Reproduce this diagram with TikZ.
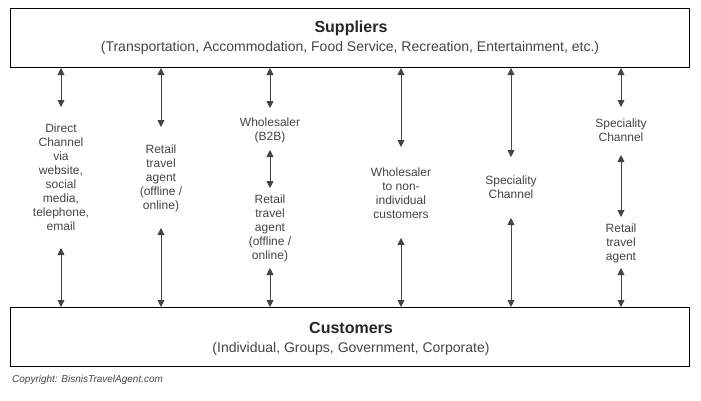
\documentclass[tikz,border=0pt]{standalone}
\usepackage{fontspec}
\setmainfont{Liberation Sans}
\usetikzlibrary{arrows.meta}
\definecolor{txt}{HTML}{444444}
\definecolor{arr}{HTML}{444444}
\begin{document}
\begin{tikzpicture}[x=1pt,y=-1pt,
  bigbox/.style={draw=black,line width=1pt,minimum width=679pt,minimum height=59pt,inner sep=0pt,anchor=north west},
  lbl/.style={align=center,text=txt,font=\fontsize{12}{14}\selectfont,inner sep=0pt},
  link/.style={draw=arr,line width=0.9pt,{Triangle[length=7pt,width=7pt]}-{Triangle[length=7pt,width=7pt]}}]
\useasboundingbox (0,0) rectangle (701,400);
\fill[white] (0,0) rectangle (701,400);
\node[bigbox] (sup) at (10,8) {};
\node[font=\bfseries\fontsize{16}{18}\selectfont,text=black!85] (supt) at (351,28) {Suppliers};
\node[font=\fontsize{14}{16}\selectfont,text=txt] (sups) at (350,48) {(Transportation, Accommodation, Food Service, Recreation, Entertainment, etc.)};
\node[bigbox] (cus) at (10,307) {};
\node[font=\bfseries\fontsize{16}{18}\selectfont,text=black!85] (cust) at (351,328) {Customers};
\node[font=\fontsize{14}{16}\selectfont,text=txt] (cuss) at (351,349) {(Individual, Groups, Government, Corporate)};
\node[font=\itshape\fontsize{10}{12}\selectfont,text=txt,anchor=west,inner sep=0pt] (copy) at (12,380) {Copyright: BisnisTravelAgent.com};
% labels
\node[lbl] (c1) at (61,177) {Direct\\Channel\\via\\website,\\social\\media,\\telephone,\\email};
\node[lbl] (c2) at (161,178) {Retail\\travel\\agent\\(offline /\\online)};
\node[lbl] (c3a) at (270,130) {Wholesaler\\(B2B)};
\node[lbl] (c3b) at (270,228) {Retail\\travel\\agent\\(offline /\\online)};
\node[lbl] (c4) at (401,193) {Wholesaler\\to non-\\individual\\customers};
\node[lbl] (c5) at (511,187) {Speciality\\Channel};
\node[lbl] (c6a) at (621,130) {Speciality\\Channel};
\node[lbl] (c6b) at (621,243) {Retail\\travel\\agent};
% endpoints
\coordinate (a1t) at (61,68);  \coordinate (a1b) at (61,107);
\coordinate (b1t) at (61,248); \coordinate (b1b) at (61,307);
\coordinate (a2t) at (161,68); \coordinate (a2b) at (161,127);
\coordinate (b2t) at (161,228);\coordinate (b2b) at (161,307);
\coordinate (a3t) at (270,68); \coordinate (a3b) at (270,108);
\coordinate (m3t) at (270,150);\coordinate (m3b) at (270,188);
\coordinate (b3t) at (270,268);\coordinate (b3b) at (270,307);
\coordinate (a4t) at (401,68); \coordinate (a4b) at (401,147);
\coordinate (b4t) at (401,238);\coordinate (b4b) at (401,307);
\coordinate (a5t) at (511,68); \coordinate (a5b) at (511,157);
\coordinate (b5t) at (511,218);\coordinate (b5b) at (511,307);
\coordinate (a6t) at (621,68); \coordinate (a6b) at (621,107);
\coordinate (m6t) at (621,155);\coordinate (m6b) at (621,217);
\coordinate (b6t) at (621,268);\coordinate (b6b) at (621,307);
\foreach \p in {a1,b1,a2,b2,a3,m3,b3,a4,b4,a5,b5,a6,m6,b6}
  \draw[link] (\p t) -- (\p b);
\end{tikzpicture}
\end{document}
